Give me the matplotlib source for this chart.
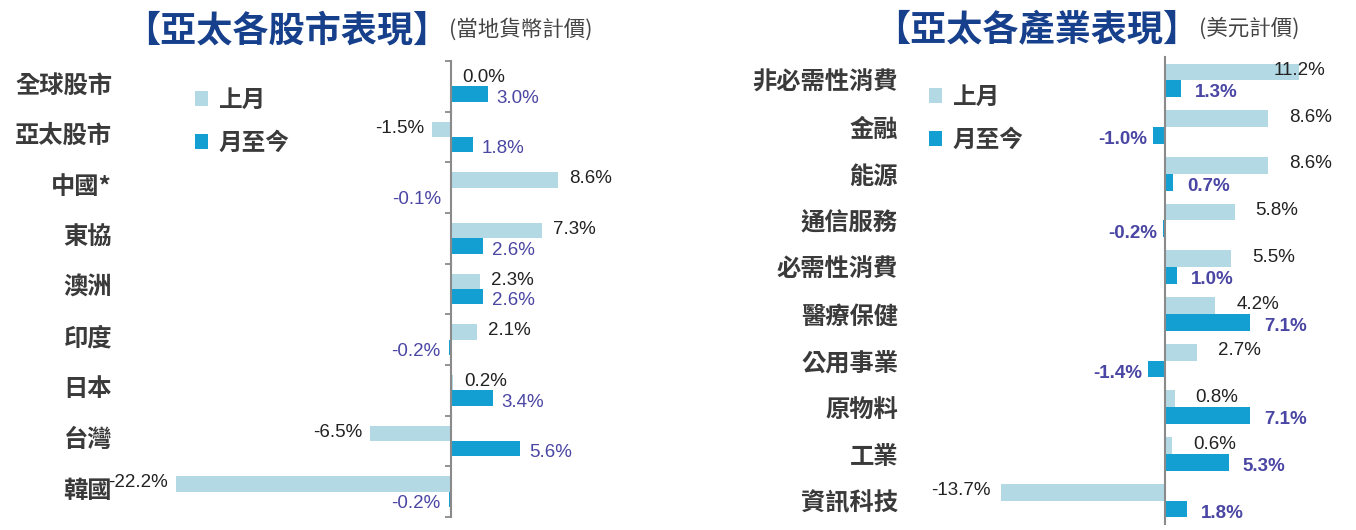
import matplotlib
matplotlib.use('Agg')
import matplotlib.pyplot as plt
from matplotlib import font_manager
from matplotlib.transforms import blended_transform_factory

# ---------------- data ----------------
left_title = "【亞太各股市表現】"
left_sub = "(當地貨幣計價)"
left_cats = ["全球股市", "亞太股市", "中國*", "東協", "澳洲", "印度", "日本", "台灣", "韓國"]
left_last = [0.0, -1.5, 8.6, 7.3, 2.3, 2.1, 0.2, -6.5, -22.2]
left_mtd = [3.0, 1.8, -0.1, 2.6, 2.6, -0.2, 3.4, 5.6, -0.2]

right_title = "【亞太各產業表現】"
right_sub = "(美元計價)"
right_cats = ["非必需性消費", "金融", "能源", "通信服務", "必需性消費", "醫療保健",
              "公用事業", "原物料", "工業", "資訊科技"]
right_last = [11.2, 8.6, 8.6, 5.8, 5.5, 4.2, 2.7, 0.8, 0.6, -13.7]
right_mtd = [1.3, -1.0, 0.7, -0.2, 1.0, 7.1, -1.4, 7.1, 5.3, 1.8]

series_names = ["上月", "月至今"]

# ---------------- style ----------------
W, H = 1356, 530
fig = plt.figure(figsize=(W / 100, H / 100), dpi=100)
fig.patch.set_facecolor('white')

names = {f.name for f in font_manager.fontManager.ttflist}
NUM = ['Liberation Sans Narrow', 'DejaVu Sans'] if 'Liberation Sans Narrow' in names \
    else ['Liberation Sans', 'DejaVu Sans']
CJK = ['Noto Sans CJK TC', 'DejaVu Sans']

C_LIGHT = '#b3d9e5'
C_DARK = '#149fd2'
C_TITLE = '#163f8c'
C_CAT = '#3a3a3a'
C_VAL1 = '#222222'
C_VAL2 = '#4a46a3'
C_AXIS = '#8a8a8a'


def add_axes_px(x0, x1, y0, y1):
    return fig.add_axes([x0 / W, 1 - y1 / H, (x1 - x0) / W, (y1 - y0) / H])


def panel(cats, last, mtd, zero_px, ppu, ax_x, ax_y, bar_h, label_x_px,
          leg_xy, ticks, mtd_bold, off, label_dy):
    ax = add_axes_px(ax_x[0], ax_x[1], ax_y[0], ax_y[1])
    ax.set_facecolor('none')
    ax.set_xlim((ax_x[0] - zero_px) / ppu, (ax_x[1] - zero_px) / ppu)
    n = len(cats)
    ax.set_ylim(n - 0.5, -0.5)
    ys = list(range(n))
    ax.barh([y - bar_h / 2 for y in ys], last, height=bar_h, color=C_LIGHT,
            label=series_names[0], zorder=2)
    ax.barh([y + bar_h / 2 for y in ys], mtd, height=bar_h, color=C_DARK,
            label=series_names[1], zorder=2)
    for s in ['top', 'right', 'bottom']:
        ax.spines[s].set_visible(False)
    ax.spines['left'].set_position(('data', 0))
    ax.spines['left'].set_color(C_AXIS)
    ax.spines['left'].set_linewidth(1.5)
    ax.spines['left'].set_zorder(3)
    ax.xaxis.set_visible(False)
    if ticks:
        ax.set_yticks([y - 0.5 for y in range(n + 1)])
        ax.tick_params(axis='y', length=4.5, width=1.3, color=C_AXIS, labelleft=False)
    else:
        ax.set_yticks([])
    tr = blended_transform_factory(fig.transFigure, ax.transData)
    for y, c in zip(ys, cats):
        ax.text(label_x_px / W, y + label_dy, c, transform=tr, ha='right', va='center',
                fontsize=17.5, color=C_CAT, family=CJK, fontweight='bold')
    # value labels
    for y, v in zip(ys, last):
        end_px = zero_px + v * ppu
        if v >= 0 and end_px > W - 75:
            dx, ha = 0, 'center'
        elif v >= 0:
            dx, ha = off[0], 'left'
        else:
            dx, ha = -off[1], 'right'
        ax.annotate(f"{v:.1f}%", xy=(v, y - bar_h / 2), xytext=(dx, 1),
                    textcoords='offset points', ha=ha,
                    va='center', fontsize=13.5, color=C_VAL1, family=NUM)
    for y, v in zip(ys, mtd):
        dx = off[2] if v >= 0 else -off[3]
        ax.annotate(f"{v:.1f}%", xy=(v, y + bar_h / 2), xytext=(dx, -3),
                    textcoords='offset points', ha='left' if v >= 0 else 'right',
                    va='center', fontsize=13.5, color=C_VAL2, family=NUM,
                    fontweight='bold' if mtd_bold else 'normal')
    ax.legend(loc='upper left', bbox_to_anchor=(leg_xy[0] / W, 1 - leg_xy[1] / H),
              bbox_transform=fig.transFigure, frameon=False, borderpad=0,
              borderaxespad=0, handlelength=0.55, handleheight=0.6,
              handletextpad=0.45, labelspacing=0.8,
              prop={'family': CJK, 'size': 17, 'weight': 'bold'}, labelcolor=C_CAT)
    return ax


panel(left_cats, left_last, left_mtd, zero_px=451, ppu=12.4,
      ax_x=(130, 640), ax_y=(61, 517), bar_h=0.3, label_x_px=112,
      leg_xy=(195, 88), ticks=True, mtd_bold=False, off=(8, 6, 6, 6), label_dy=-0.02)
panel(right_cats, right_last, right_mtd, zero_px=1165, ppu=12.0,
      ax_x=(960, 1350), ax_y=(57, 524), bar_h=0.36, label_x_px=898,
      leg_xy=(929, 85), ticks=False, mtd_bold=True, off=(15, 7, 10, 4), label_dy=0.06)

# titles
fig.text(449 / W, 1 - 31 / H, left_title, ha='right', va='center', fontsize=26,
         fontweight='bold', color=C_TITLE, family=CJK)
fig.text(449 / W, 1 - 29 / H, left_sub, ha='left', va='center', fontsize=15.5,
         color='#444444', family=CJK)
fig.text(1199 / W, 1 - 31 / H, right_title, ha='right', va='center', fontsize=26,
         fontweight='bold', color=C_TITLE, family=CJK)
fig.text(1199 / W, 1 - 29 / H, right_sub, ha='left', va='center', fontsize=15.5,
         color='#444444', family=CJK)

fig.savefig('out.png', dpi=100, facecolor='white')
